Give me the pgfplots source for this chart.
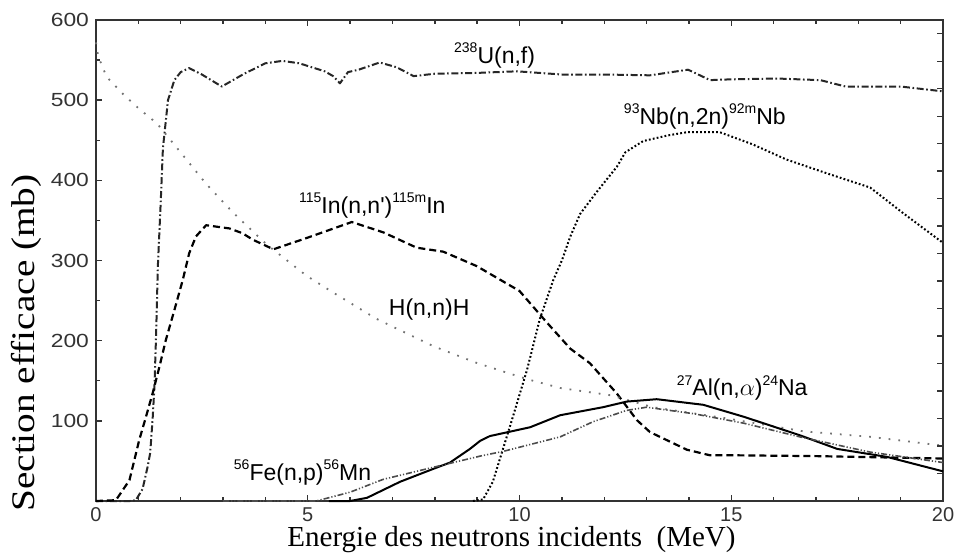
\documentclass[border=0pt]{standalone}
\usepackage{fontspec}
\setmainfont{Liberation Serif}
\newfontfamily\sans{Liberation Sans}
\usepackage{graphicx}
\usepackage{pgfplots}
\pgfplotsset{compat=1.18}

% isotope mass numbers set as small raised digits
\newcommand\iso[1]{\raisebox{0.45em}{\fontsize{7}{7}\selectfont #1}}
\newcommand\curvelabel{\sans\fontsize{11.5}{12}\selectfont}

\begin{document}
\begin{tikzpicture}[x=1pt,y=1pt]
\useasboundingbox (0,0) rectangle (478,279);
\begin{axis}[
  at={(48pt,28.5pt)}, anchor=south west,
  scale only axis, width=423.5pt, height=240.5pt,
  xmin=0, xmax=20, ymin=0, ymax=600,
  xtick={0,5,10,15,20}, minor x tick num=4,
  ytick={100,200,...,600}, minor y tick num=1,
  ytick pos=left,
  tick align=inside,
  major tick length=3pt, minor tick length=2pt,
  axis line style={line width=1pt, black!80},
  tick style={line width=0.7pt, black!80},
  /pgf/number format/assume math mode=true,
  x tick label style={font=\sans\fontsize{10}{10}\selectfont, text=black!80, yshift=0.2pt},
  y tick label style={font=\sans\fontsize{9.5}{10}\selectfont, text=black!80},
  yticklabel={\scalebox{1.2}[1]{\pgfmathprintnumber{\tick}}},
  clip=false,
  every axis plot/.append style={line join=round},
]
% 238U(n,f)
\addplot[black!85, line width=1pt, dash pattern=on 3.5pt off 1.3pt on 0.8pt off 1.3pt] coordinates {
 (0,0) (0.8,0) (0.94,1) (1.1,15) (1.22,43) (1.28,60) (1.34,105) (1.38,143)
 (1.42,209) (1.46,292) (1.53,375) (1.58,440) (1.7,500) (1.85,525) (2.0,535)
 (2.2,540) (2.5,532) (2.97,517) (3.5,533) (4.0,546) (4.4,549) (4.8,546)
 (5.4,536) (5.6,530) (5.76,521) (5.95,535) (6.2,538) (6.7,547) (7.1,541)
 (7.5,530) (8.0,533) (9.0,534) (9.94,536) (11,532) (12,532) (13.08,531)
 (13.98,538) (14.5,525) (15,526) (16.08,527) (17.1,525) (17.7,517) (19,517)
 (20,511)};
% 115In(n,n')115mIn
\addplot[black, line width=1.1pt, dash pattern=on 3.5pt off 2pt] coordinates {
 (0,0) (0.47,1) (0.79,26) (1.02,76) (1.18,105) (1.34,135) (1.5,168)
 (1.65,201) (1.85,238) (2.05,276) (2.2,309) (2.36,330) (2.6,344) (3.15,340)
 (3.46,334) (3.7,326) (4.19,314) (4.97,328) (6.04,348) (6.79,335) (7.57,316)
 (8.2,311) (8.99,293) (10.0,262) (10.64,223) (11.2,190) (11.66,172)
 (12.3,134) (12.77,101) (13.08,86) (13.95,64) (14.5,57) (15.1,57) (17,56)
 (20,53)};
% H(n,n)H
\addplot[black!55, line width=0.9pt, dash pattern=on 0.9pt off 4pt] coordinates {
 (0,572) (0.05,555) (0.25,529) (0.65,507) (1.0,490) (1.44,471) (1.98,436)
 (2.61,395) (3.25,359) (4.03,320) (4.97,281) (5.6,260) (6.63,227) (7.97,193)
 (9.0,172) (10.18,152) (10.96,141) (12.14,132) (13.15,117) (14.9,103)
 (16.7,87) (18.3,80) (20,69)};
% 93Nb(n,2n)92mNb
\addplot[black, line width=1pt, dash pattern=on 0.9pt off 1.1pt] coordinates {
 (8.9,0) (9.14,2) (9.37,24) (9.78,94) (10.18,164) (10.48,227) (10.8,276)
 (11.0,300) (11.2,330) (11.43,358) (11.83,386) (12.3,417) (12.5,435)
 (12.92,449) (13.5,456) (13.95,460) (14.73,460) (15.5,445) (16.3,426)
 (17.3,408) (18.28,391) (19.06,359) (20,322)};
% 27Al(n,alpha)24Na
\addplot[black, line width=1pt] coordinates {
 (5.5,0) (6.0,0) (6.4,4) (7.18,24) (7.96,40) (8.36,48) (8.83,65) (9.07,75)
 (9.3,81) (10.25,92) (10.96,107) (11.97,117) (12.53,124) (13.24,127)
 (14.34,120) (15.3,105) (16.62,82) (17.5,65) (18.68,55) (20,37)};
% 56Fe(n,p)56Mn
\addplot[black!70, line width=0.8pt, dash pattern=on 3pt off 1pt on 0.6pt off 1pt on 0.6pt off 1pt] coordinates {
 (3.0,0) (5.2,0) (6.0,11) (6.78,27) (7.96,42) (9.07,56) (9.62,62)
 (10.96,80) (11.74,99) (12.53,113) (13.0,117) (14.1,109) (15.3,97)
 (16.62,80) (18.28,61) (20,48)};

\node[anchor=base west, font=\curvelabel] at (axis cs:8.29,546) {\iso{238}U(n,f)};
\node[anchor=base west, font=\curvelabel] at (axis cs:12.30,470) {\iso{93}Nb(n,2n)\iso{92m}Nb};
\node[anchor=base west, font=\curvelabel] at (axis cs:4.63,359) {\iso{115}In(n,n')\iso{115m}In};
\node[anchor=base west, font=\curvelabel] at (axis cs:6.75,231) {H(n,n)H};
\node[anchor=base west, font=\curvelabel] at (axis cs:13.55,131) {\iso{27}Al(n,$\alpha$)\iso{24}Na};
\node[anchor=base west, font=\curvelabel] at (axis cs:3.09,26) {\iso{56}Fe(n,p)\iso{56}Mn};
\end{axis}
% ticks of the right-hand scale
\begin{axis}[
  at={(48pt,28.5pt)}, anchor=south west,
  scale only axis, width=423.5pt, height=240.5pt,
  xmin=0, xmax=20, ymin=0, ymax=17.5,
  hide x axis, axis y line*=right, y axis line style={draw=none},
  ytick={1,2,...,17}, yticklabels={},
  tick align=inside, major tick length=3pt,
  tick style={line width=0.7pt, black!80},
]
\end{axis}
\node[rotate=90, anchor=base] at (17,107.5) {\fontsize{16.5}{17}\selectfont\scalebox{1.19}[1]{Section efficace (mb)}};
\node[anchor=base] at (255.75,6) {\fontsize{14.5}{15}\selectfont Energie des neutrons incidents\ \ (MeV)};
\end{tikzpicture}
\end{document}
